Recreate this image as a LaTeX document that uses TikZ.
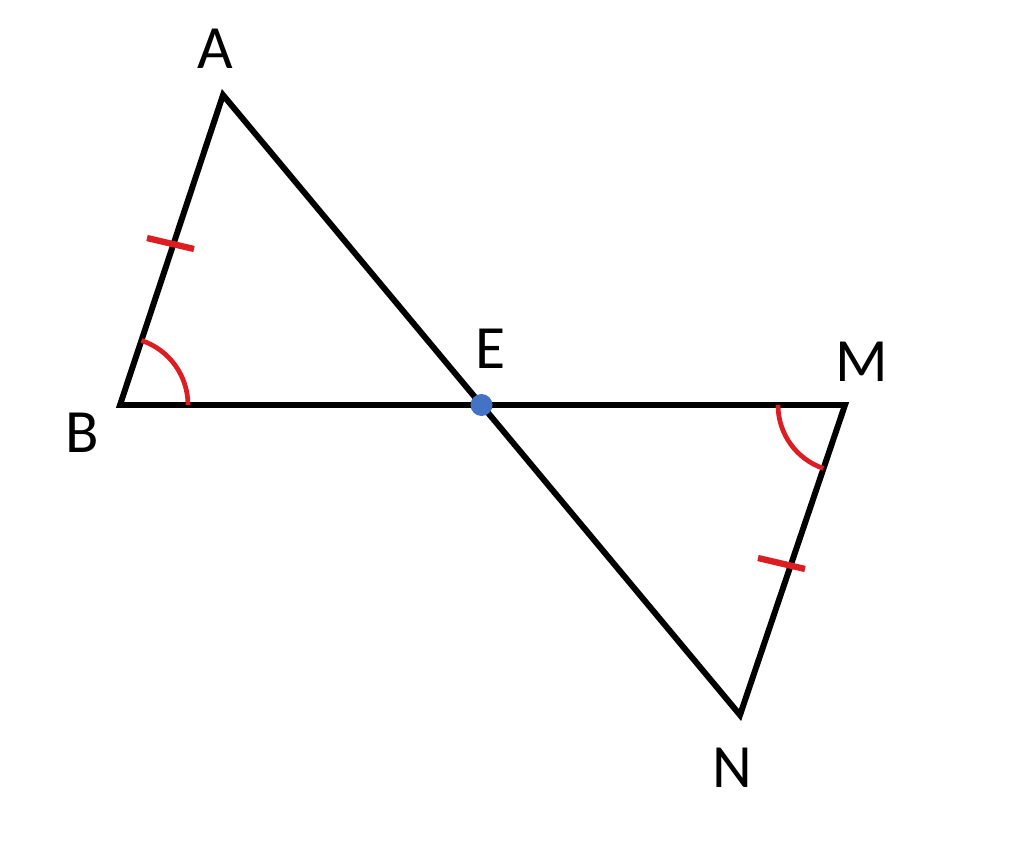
\documentclass[tikz,border=0pt]{standalone}
\usepackage{fontspec}
\setmainfont{Carlito}
\definecolor{markred}{RGB}{220,30,35}
\definecolor{dotblue}{RGB}{68,114,196}

\begin{document}
\begin{tikzpicture}[x=0.02cm, y=0.02cm]
    \tikzstyle{side}=[draw, black, line width=3.4pt, line join=miter]
    \tikzstyle{tickmark}=[draw, markred, line width=3.6pt]
    \tikzstyle{anglemark}=[draw, markred, line width=2.7pt]
    \tikzstyle{vertex label}=[font=\fontsize{35}{40}\selectfont, inner sep=0pt]

    \useasboundingbox (0,0) rectangle (1024,850);

    % vertices
    \coordinate (A) at (223,755);
    \coordinate (B) at (120,445);
    \coordinate (E) at (481.5,445);
    \coordinate (M) at (845,445);
    \coordinate (N) at (740,135);

    % the two triangles meeting at E
    \draw[side] (A) -- (B) -- (M) -- (N) -- cycle;

    % equal sides
    \coordinate (tAB) at (147,612);
    \coordinate (tMN) at (758,292);
    \draw[tickmark] (tAB) -- ++(47,-11);
    \draw[tickmark] (tMN) -- ++(47,-11);

    % equal angles
    \draw[anglemark] (B) ++(0:68) arc (0:71.6:68);
    \draw[anglemark] (M) ++(180:67) arc (180:251.2:67);

    \fill[dotblue] (E) circle (11);

    \node[vertex label] (lA) at (215,801) {A};
    \node[vertex label] (lB) at (82,417) {B};
    \node[vertex label] (lE) at (491,501) {E};
    \node[vertex label] (lM) at (862,488) {M};
    \node[vertex label] (lN) at (732,82) {N};
\end{tikzpicture}
\end{document}
